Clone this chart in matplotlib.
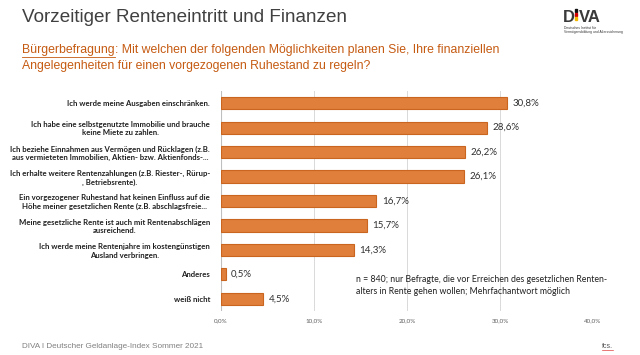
import matplotlib.pyplot as plt
from matplotlib.lines import Line2D
from matplotlib.patches import Rectangle

categories = [
    "Ich werde meine Ausgaben einschränken.",
    "Ich habe eine selbstgenutzte Immobilie und brauche\nkeine Miete zu zahlen.",
    "Ich beziehe Einnahmen aus Vermögen und Rücklagen (z.B.\naus vermieteten Immobilien, Aktien- bzw. Aktienfonds-...",
    "Ich erhalte weitere Rentenzahlungen (z.B. Riester-, Rürup-\n, Betriebsrente).",
    "Ein vorgezogener Ruhestand hat keinen Einfluss auf die\nHöhe meiner gesetzlichen Rente (z.B. abschlagsfreie...",
    "Meine gesetzliche Rente ist auch mit Rentenabschlägen\nausreichend.",
    "Ich werde meine Rentenjahre im kostengünstigen\nAusland verbringen.",
    "Anderes",
    "weiß nicht",
]
values = [30.8, 28.6, 26.2, 26.1, 16.7, 15.7, 14.3, 0.5, 4.5]
x_ticks = [0, 10, 20, 30, 40]

W, H = 640, 355
ORANGE = "#E07E3C"
ORANGE_EDGE = "#C9651F"
TEXT_ORANGE = "#C55A11"


def fx(px):
    return px / W


def fy(py):
    return 1 - py / H


fig = plt.figure(figsize=(6.4, 3.55), dpi=100)
ax = fig.add_axes([fx(221), fy(311), fx(593) - fx(221), fy(91) - fy(311)])

y = list(range(len(values)))
ax.barh(y, values, height=0.5, color=ORANGE, edgecolor=ORANGE_EDGE, linewidth=0.8, zorder=3)
for yi, v in zip(y, values):
    ax.text(v + 0.6, yi, f"{v:.1f}%".replace(".", ","), va="center", ha="left",
            fontsize=7, family="Lato", color="#303030")

ax.set_ylim(len(values) - 0.5, -0.5)
ax.set_xlim(0, 40)
ax.set_yticks(y)
ax.set_yticklabels(categories, fontsize=5.6, family="Lato", fontweight="bold",
                   multialignment="center", color="#202020")
ax.set_xticks(x_ticks)
ax.set_xticklabels([f"{t:.1f}%".replace(".", ",") for t in x_ticks], fontsize=4.5,
                   family="Lato", color="#606060")
ax.tick_params(axis="both", length=0)
ax.tick_params(axis="y", pad=8)
ax.tick_params(axis="x", pad=5)
ax.grid(axis="x", color="#D9D9D9", linewidth=0.7, zorder=0)
for s in ax.spines.values():
    s.set_visible(False)
ax.axvline(0, color="#BFBFBF", linewidth=0.8, zorder=2)

ax.text(14.5, 7.45, "n = 840; nur Befragte, die vor Erreichen des gesetzlichen Renten-\n"
        "alters in Rente gehen wollen; Mehrfachantwort möglich",
        fontsize=6.3, family="Lato", color="#202020", va="center", ha="left", linespacing=1.4)

# title and question
fig.text(fx(22), fy(18), "Vorzeitiger Renteneintritt und Finanzen", fontsize=13.6,
         family="Liberation Sans", color="#404040", va="center", ha="left")

renderer = fig.canvas.get_renderer()
t1 = fig.text(fx(22), fy(50), "Bürgerbefragung", fontsize=8.8, family="Liberation Sans",
              color=TEXT_ORANGE, va="center", ha="left")
bb = t1.get_window_extent(renderer)
fig.add_artist(Line2D([bb.x0 / W, bb.x1 / W], [bb.y0 / H - 0.003] * 2,
                      color=TEXT_ORANGE, linewidth=0.6))
fig.text(bb.x1 / W, fy(50), ": Mit welchen der folgenden Möglichkeiten planen Sie, Ihre finanziellen",
         fontsize=8.8, family="Liberation Sans", color=TEXT_ORANGE, va="center", ha="left")
fig.text(fx(22), fy(66), "Angelegenheiten für einen vorgezogenen Ruhestand zu regeln?",
         fontsize=8.8, family="Liberation Sans", color=TEXT_ORANGE, va="center", ha="left")

# logo
fig.text(fx(563), fy(17), "D", fontsize=12, family="Liberation Sans", fontweight="bold",
         color="#3A3A3A", va="center", ha="left")
for i, c in enumerate(["#111111", "#D00000", "#F2B800"]):
    fig.add_artist(Rectangle((fx(574.5), fy(12 + i * 4)), 2.4 / W, 2.8 / H,
                             transform=fig.transFigure, color=c))
fig.text(fx(578.5), fy(17), "VA", fontsize=12, family="Liberation Sans", fontweight="bold",
         color="#3A3A3A", va="center", ha="left")
fig.text(fx(564), fy(30), "Deutsches Institut für\nVermögensbildung und Alterssicherung",
         fontsize=2.4, family="Liberation Sans", color="#333333", va="center", ha="left",
         linespacing=1.2)

# footer
fig.text(fx(22), fy(346), "DIVA I Deutscher Geldanlage-Index Sommer 2021", fontsize=5.9,
         family="Liberation Sans", color="#808080", va="center", ha="left")
ft = fig.text(fx(602), fy(346), "fcs.", fontsize=5, family="Liberation Sans",
              color="#555555", va="center", ha="left")
bb = ft.get_window_extent(renderer)
fig.add_artist(Line2D([bb.x0 / W, bb.x1 / W], [bb.y0 / H - 0.002] * 2,
                      color="#E04040", linewidth=0.5))

fig.savefig("out.png", dpi=100)
